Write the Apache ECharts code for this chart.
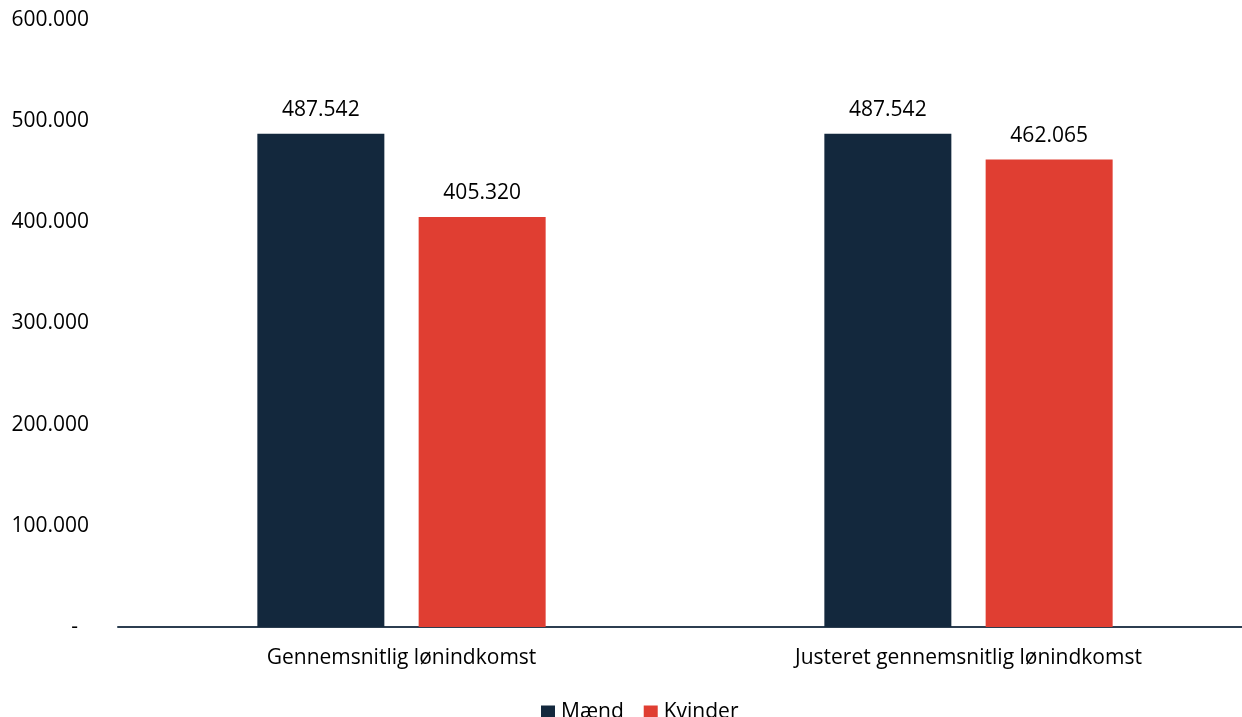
<!DOCTYPE html>
<html>
<head>
<meta charset="utf-8">
<script src="https://cdn.jsdelivr.net/npm/echarts@6/dist/echarts.min.js"></script>
<style>
html,body{margin:0;padding:0;background:#fff;overflow:hidden;}
#chart{width:1252px;height:717px;}
</style>
</head>
<body>
<div id="chart"></div>
<script>
const categories = ['Gennemsnitlig lønindkomst', 'Justeret gennemsnitlig lønindkomst'];
const maend = [487542, 487542];
const kvinder = [405320, 462065];
const seriesNames = ['Mænd', 'Kvinder'];

const FONT = 'Open Sans';
function fmt(v) {
  if (v === 0) return '-  ';
  return String(v).replace(/\B(?=(\d{3})+(?!\d))/g, '.');
}

const chart = echarts.init(document.getElementById('chart'));
chart.setOption({
  animation: false,
  textStyle: { fontFamily: FONT },
  grid: { left: 118, right: 0, top: 20, bottom: 90, containLabel: false },
  legend: {
    data: seriesNames,
    top: 702,
    left: 541,
    padding: 0,
    itemWidth: 14,
    itemHeight: 14,
    itemGap: 20,
    icon: 'rect',
    textStyle: { fontFamily: FONT, fontSize: 21, color: '#000', padding: [0, 0, 0, 1] }
  },
  xAxis: {
    type: 'category',
    data: categories,
    axisLine: { lineStyle: { color: '#2c3e50', width: 2 } },
    axisTick: { show: false },
    axisLabel: { fontFamily: FONT, fontSize: 21, color: '#000', margin: 21 }
  },
  yAxis: {
    type: 'value',
    min: 0,
    max: 600000,
    interval: 100000,
    splitLine: { show: false },
    axisLine: { show: false },
    axisTick: { show: false },
    axisLabel: { fontFamily: FONT, fontSize: 21, color: '#000', margin: 29, formatter: fmt }
  },
  series: [
    {
      name: seriesNames[0], type: 'bar', data: maend, barWidth: 127, barGap: '27%',
      itemStyle: { color: '#13283D' },
      label: { show: true, position: 'top', distance: 13, fontFamily: FONT, fontSize: 21, color: '#000', formatter: p => fmt(p.value) }
    },
    {
      name: seriesNames[1], type: 'bar', data: kvinder, barWidth: 127,
      itemStyle: { color: '#E03E32' },
      label: { show: true, position: 'top', distance: 13, fontFamily: FONT, fontSize: 21, color: '#000', formatter: p => fmt(p.value) }
    }
  ]
});
</script>
</body>
</html>
